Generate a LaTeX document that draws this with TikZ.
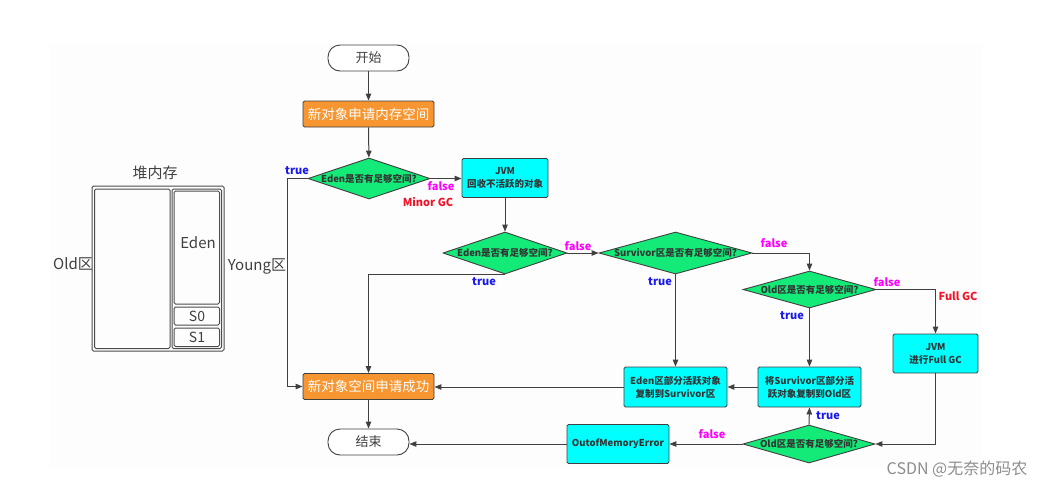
\documentclass[tikz,border=0pt]{standalone}
\usepackage{fontspec}
\setmainfont{Noto Sans CJK SC}
\usetikzlibrary{shapes.geometric,arrows.meta}
\definecolor{orng}{RGB}{247,150,48}
\definecolor{grn}{RGB}{20,234,120}
\definecolor{cyn}{RGB}{0,255,255}
\definecolor{edgec}{RGB}{64,64,64}
\definecolor{tblue}{RGB}{25,25,235}
\definecolor{tmag}{RGB}{255,0,255}
\definecolor{tred}{RGB}{240,20,40}
\definecolor{bgc}{RGB}{253,253,253}
\begin{document}
\begin{tikzpicture}[x=1pt,y=-1pt,
  term/.style={draw=edgec, line width=0.9pt, rounded corners=12pt, fill=white, minimum width=81pt, minimum height=26pt, inner sep=0pt, font=\fontsize{13}{15}\selectfont, text=black!75},
  proc/.style={draw=edgec, line width=0.9pt, rounded corners=1.5pt, fill=orng, text=white, minimum width=131pt, minimum height=26pt, inner sep=0pt, font=\fontsize{13.5}{15}\selectfont},
  dec/.style={diamond, draw=edgec, line width=0.9pt, fill=grn, inner sep=0pt, font=\fontsize{9.5}{11}\selectfont\bfseries, text=black!80},
  cbox/.style={draw=edgec, line width=0.9pt, rounded corners=1.5pt, fill=cyn, inner sep=0pt, align=center, font=\fontsize{9.5}{13}\selectfont\bfseries, text=black!80},
  conn/.style={draw=edgec, line width=1pt, -{Triangle[length=7pt,width=5.5pt]}},
  tlbl/.style={font=\fontsize{11}{12}\selectfont\bfseries, text=tblue, inner sep=0pt},
  flbl/.style={font=\fontsize{11}{12}\selectfont\bfseries, text=tmag, inner sep=0pt},
  rlbl/.style={font=\fontsize{11}{12}\selectfont\bfseries, text=tred, inner sep=0pt},
  heap/.style={draw=black!70, line width=1pt, rounded corners=1.5pt},
  hlbl/.style={font=\fontsize{15}{17}\selectfont, text=black!75, inner sep=0pt}
]
\useasboundingbox (0,0) rectangle (1059,490);
\fill[bgc] (50,44) rectangle (982,468);

% heap memory
\node[hlbl] (heapt) at (155,173) {堆内存};
\draw[heap] (92,186) rectangle (224,351);
\draw[heap] (94.5,189) rectangle (170,348.5);
\draw[heap] (172,189) rectangle (221.5,348.5);
\draw[heap] (174,191) rectangle (219.5,304);
\draw[heap] (174,307) rectangle (219.5,325);
\draw[heap] (174,328) rectangle (219.5,346.5);
\node[hlbl] (edenl) at (198,243) {Eden};
\node[font=\fontsize{14}{16}\selectfont, text=black!75, inner sep=0pt] (s0l) at (197,316) {S0};
\node[font=\fontsize{14}{16}\selectfont, text=black!75, inner sep=0pt] (s1l) at (197,337.5) {S1};
\node[hlbl] (oldl) at (73,264) {Old区};
\node[hlbl] (youngl) at (257,266) {Young区};

% flow nodes
\node[term] (start) at (368.5,58) {开始};
\node[proc] (req) at (368.5,114) {新对象申请内存空间};
\node[dec, minimum width=122pt, minimum height=41pt] (d1) at (369,178.5) {\makebox[0pt]{Eden是否有足够空间?}};
\node[cbox, minimum width=86pt, minimum height=39pt] (jvm1) at (505,178) {JVM\\回收不活跃的对象};
\node[dec, minimum width=124pt, minimum height=42pt] (d2) at (505,253) {\makebox[0pt]{Eden是否有足够空间?}};
\node[dec, minimum width=153pt, minimum height=42pt] (d3) at (675.5,253) {\makebox[0pt]{Survivor区是否有足够空间?}};
\node[dec, minimum width=133pt, minimum height=37pt] (d4) at (809.5,289.5) {\makebox[0pt]{Old区是否有足够空间?}};
\node[cbox, minimum width=85pt, minimum height=39pt] (jvm2) at (935.5,353.5) {JVM\\进行Full GC};
\node[cbox, minimum width=103pt, minimum height=40pt] (surv) at (809.5,387) {将Survivor区部分活\\跃对象复制到Old区};
\node[cbox, minimum width=103pt, minimum height=40pt] (edenb) at (675.5,387) {Eden区部分活跃对象\\复制到Survivor区};
\node[proc] (ok) at (368.5,386.5) {新对象空间申请成功};
\node[term] (end) at (368.5,442) {结束};
\node[dec, minimum width=132pt, minimum height=38pt] (d5) at (809,444) {\makebox[0pt]{Old区是否有足够空间?}};
\node[cbox, minimum width=102pt, minimum height=39pt] (oom) at (618,444) {OutofMemoryError};

% connectors
\draw[conn] (start) -- (req);
\draw[conn] (req) -- (d1);
\draw[conn] (d1.east) -- (d1.east -| jvm1.west);
\draw[conn] (jvm1.south) -- (d2.north);
\draw[conn] (d1.west) -- ++(-20,0) |- (ok.west);
\draw[conn] (d2.east) -- (d3.west);
\draw[conn] (d2.south) -| (ok.north);
\draw[conn] (d3.south) -- (edenb.north);
\draw[conn] (d3.east) -| (d4.north);
\draw[conn] (d4.east) -| (jvm2.north);
\draw[conn] (d4.south) -- (surv.north);
\draw[conn] (surv.west) -- (edenb.east);
\draw[conn] (edenb.west) -- (edenb.west -| ok.east);
\draw[conn] (ok.south) -- (end.north);
\draw[conn] (jvm2.south) |- (d5.east);
\draw[conn] (d5.north) -- (surv.south);
\draw[conn] (d5.west) -- (oom.east);
\draw[conn] (oom.west) -- (oom.west -| end.east);

% labels
\node[tlbl] (t1) at (297,171) {true};
\node[flbl] (f1) at (441,186) {false};
\node[rlbl] (mgc) at (428,202) {Minor GC};
\node[flbl] (f2) at (578,246) {false};
\node[tlbl] (t2) at (484,282) {true};
\node[tlbl] (t3) at (660,282) {true};
\node[flbl] (f3) at (774,243) {false};
\node[flbl] (f4) at (887,282) {false};
\node[rlbl] (fgc) at (958,296) {Full GC};
\node[tlbl] (t4) at (792,316) {true};
\node[tlbl] (t5) at (828,416) {true};
\node[flbl] (f5) at (712,434) {false};

\node[font=\fontsize{16}{18}\selectfont, text=black!45, inner sep=0pt] (wm) at (957,469) {CSDN @无奈的码农};
\end{tikzpicture}
\end{document}
